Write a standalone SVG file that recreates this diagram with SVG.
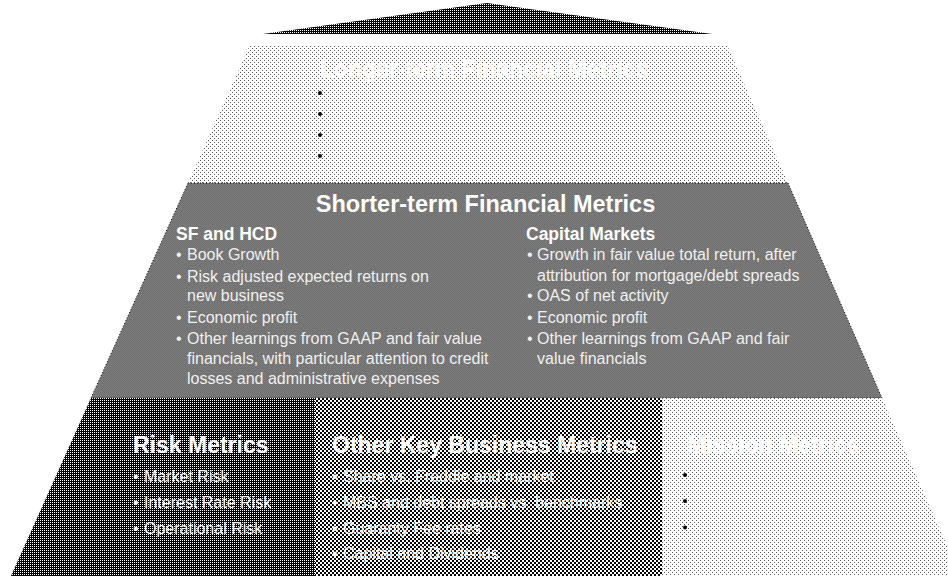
<svg xmlns="http://www.w3.org/2000/svg" width="948" height="576" viewBox="0 0 948 576">
<defs>
<pattern id="pLight" width="4" height="4" patternUnits="userSpaceOnUse">
<rect width="4" height="4" fill="#ffffff"/>
<rect x="0" y="0" width="1" height="1" fill="#555555"/>
<rect x="2" y="2" width="1" height="1" fill="#555555"/>
</pattern>
<pattern id="pDark" width="2" height="2" patternUnits="userSpaceOnUse">
<rect width="2" height="2" fill="#000000"/>
<rect x="0" y="0" width="1" height="1" fill="#ffffff"/>
</pattern>
<pattern id="pMid" width="4" height="4" patternUnits="userSpaceOnUse">
<rect width="4" height="4" fill="#ffffff"/>
<rect x="0" y="0" width="2" height="2" fill="#000000"/>
<rect x="2" y="2" width="2" height="2" fill="#000000"/>
</pattern>
<pattern id="pGray" width="2" height="2" patternUnits="userSpaceOnUse">
<rect width="2" height="2" fill="#7e7e7e"/>
<rect x="0" y="0" width="1" height="1" fill="#6e6e6e"/>
<rect x="1" y="1" width="1" height="1" fill="#6e6e6e"/>
</pattern>
</defs>
<style>
text{font-family:"Liberation Sans",Arial,sans-serif;}
.t1{font-size:23px;font-weight:bold;fill:#ffffff;}
.t2{font-size:17.5px;font-weight:bold;fill:#ffffff;}
.b{font-size:16px;fill:#f0f0f0;}
.bw{font-size:16px;fill:#ffffff;}
.dot{fill:#000000;}
.edge{fill:none;stroke:#000000;stroke-width:1;stroke-dasharray:1 2;}
</style>

<g id="apex">
<polygon points="263,34 487,3 712,34" fill="url(#pDark)"/>
</g>

<g id="longer-term">
<polygon points="250,45 727,45 788,183 188,183" fill="url(#pLight)"/>
<text class="t1" x="484" y="77" text-anchor="middle">Longer-term Financial Metrics</text>
<circle class="dot" cx="320" cy="93" r="2"/>
<circle class="dot" cx="320" cy="114" r="2"/>
<circle class="dot" cx="320" cy="135" r="2"/>
<circle class="dot" cx="320" cy="156" r="2"/>
</g>

<g id="shorter-term">
<polygon points="188,183 788,183 882,398 91,398" fill="url(#pGray)"/>
<polygon class="edge" points="188,183 788,183 882,398 91,398"/>
<text class="t1" x="485.5" y="212" text-anchor="middle" style="font-size:23.5px">Shorter-term Financial Metrics</text>
<text class="t2" x="176" y="240">SF and HCD</text>
<text class="b" x="176" y="260">•</text>
<text class="b" x="187" y="260">Book Growth</text>
<text class="b" x="176" y="281.5">•</text>
<text class="b" x="187" y="281.5">Risk adjusted expected returns on</text>
<text class="b" x="187" y="300.5">new business</text>
<text class="b" x="176" y="322.5">•</text>
<text class="b" x="187" y="322.5">Economic profit</text>
<text class="b" x="176" y="344">•</text>
<text class="b" x="187" y="344">Other learnings from GAAP and fair value</text>
<text class="b" x="187" y="364">financials, with particular attention to credit</text>
<text class="b" x="187" y="383.5">losses and administrative expenses</text>
<text class="t2" x="526" y="240">Capital Markets</text>
<text class="b" x="527" y="260">•</text>
<text class="b" x="537" y="260">Growth in fair value total return, after</text>
<text class="b" x="537" y="280.5">attribution for mortgage/debt spreads</text>
<text class="b" x="527" y="301">•</text>
<text class="b" x="537" y="301">OAS of net activity</text>
<text class="b" x="527" y="322.5">•</text>
<text class="b" x="537" y="322.5">Economic profit</text>
<text class="b" x="527" y="344">•</text>
<text class="b" x="537" y="344">Other learnings from GAAP and fair</text>
<text class="b" x="537" y="364">value financials</text>
</g>

<g id="risk">
<polygon points="91,398 315,398 315,576 11,576" fill="url(#pDark)"/>
<text class="t1" x="133" y="453">Risk Metrics</text>
<text class="bw" x="133" y="481.5">•</text>
<text class="bw" x="144" y="481.5">Market Risk</text>
<text class="bw" x="133" y="507.5">•</text>
<text class="bw" x="144" y="507.5">Interest Rate Risk</text>
<text class="bw" x="133" y="533.5">•</text>
<text class="bw" x="144" y="533.5">Operational Risk</text>
</g>

<g id="other-key">
<polygon points="315,398 662,398 662,576 315,576" fill="url(#pMid)"/>
<text class="t1" x="332" y="453">Other Key Business Metrics</text>
<text class="bw" x="332" y="481.5">•</text>
<text class="bw" x="343" y="481.5">Share vs. Freddie and market</text>
<text class="bw" x="332" y="507.5">•</text>
<text class="bw" x="343" y="507.5">MBS and debt spreads vs. benchmarks</text>
<text class="bw" x="332" y="533.5">•</text>
<text class="bw" x="343" y="533.5">Guaranty Fee rates</text>
<text class="bw" x="332" y="558.5">•</text>
<text class="bw" x="343" y="558.5">Capital and Dividends</text>
</g>

<g id="mission">
<polygon points="662,398 882,398 948,548 948,576 662,576" fill="url(#pLight)"/>
<text class="t1" x="687" y="453">Mission Metrics</text>
<circle class="dot" cx="685" cy="475" r="2"/>
<circle class="dot" cx="685" cy="501" r="2"/>
<circle class="dot" cx="685" cy="527.5" r="2"/>
</g>
</svg>
